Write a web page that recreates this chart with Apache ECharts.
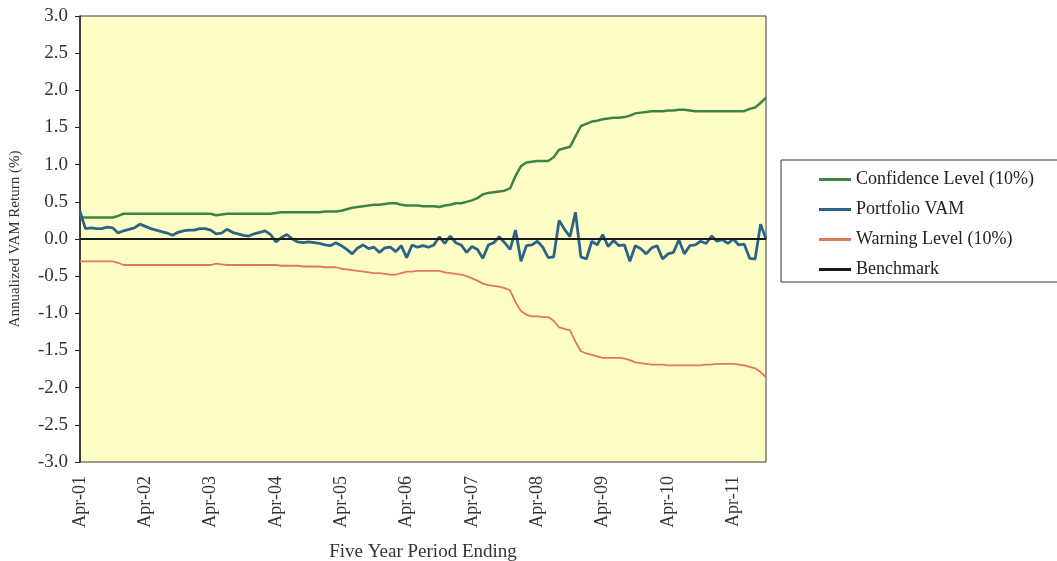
<!DOCTYPE html>
<html>
<head>
<meta charset="utf-8">
<script src="https://cdn.jsdelivr.net/npm/echarts@6/dist/echarts.min.js"></script>
<style>html,body{margin:0;padding:0;background:#fff;}#c{width:1057px;height:561px;}</style>
</head>
<body>
<div id="c"></div>
<script>
// Month labels: Apr-01 .. Oct-11 (monthly)
const monthNames = ['Jan','Feb','Mar','Apr','May','Jun','Jul','Aug','Sep','Oct','Nov','Dec'];
const startYear = 2001, startMonth = 3, monthCount = 127;
const categories = [];
for (let i = 0; i < monthCount; i++) {
  const m = (startMonth + i) % 12;
  const y = startYear + Math.floor((startMonth + i) / 12);
  categories.push(monthNames[m] + '-' + String(y % 100).padStart(2, '0'));
}

const confidenceLevel = [
  0.29,0.29,0.29,0.29,0.29,0.29,0.29,0.31,0.34,0.34,
  0.34,0.34,0.34,0.34,0.34,0.34,0.34,0.34,0.34,0.34,
  0.34,0.34,0.34,0.34,0.34,0.32,0.33,0.34,0.34,0.34,
  0.34,0.34,0.34,0.34,0.34,0.34,0.35,0.36,0.36,0.36,
  0.36,0.36,0.36,0.36,0.36,0.37,0.37,0.37,0.38,0.40,
  0.42,0.43,0.44,0.45,0.46,0.46,0.47,0.48,0.48,0.46,
  0.45,0.45,0.45,0.44,0.44,0.44,0.43,0.45,0.46,0.48,
  0.48,0.50,0.52,0.55,0.60,0.62,0.63,0.64,0.65,0.68,
  0.85,0.98,1.03,1.04,1.05,1.05,1.05,1.10,1.20,1.22,
  1.24,1.38,1.52,1.55,1.58,1.59,1.61,1.62,1.63,1.63,
  1.64,1.66,1.69,1.70,1.71,1.72,1.72,1.72,1.73,1.73,
  1.74,1.74,1.73,1.72,1.72,1.72,1.72,1.72,1.72,1.72,
  1.72,1.72,1.72,1.75,1.77,1.83,1.90
];

const portfolioVAM = [
  0.37,0.14,0.15,0.14,0.14,0.16,0.15,0.08,0.11,0.13,
  0.15,0.20,0.17,0.14,0.12,0.10,0.08,0.05,0.09,0.11,
  0.12,0.12,0.14,0.14,0.12,0.07,0.08,0.13,0.09,0.07,
  0.05,0.04,0.07,0.09,0.11,0.06,-0.04,0.02,0.06,0.00,
  -0.04,-0.05,-0.04,-0.05,-0.06,-0.08,-0.09,-0.05,-0.09,-0.14,
  -0.20,-0.12,-0.08,-0.13,-0.11,-0.18,-0.12,-0.11,-0.17,-0.09,
  -0.25,-0.08,-0.11,-0.09,-0.11,-0.08,0.03,-0.06,0.04,-0.05,
  -0.08,-0.18,-0.10,-0.14,-0.26,-0.08,-0.05,0.03,-0.05,-0.14,
  0.12,-0.30,-0.09,-0.08,-0.03,-0.11,-0.25,-0.24,0.25,0.13,
  0.03,0.36,-0.24,-0.27,-0.03,-0.08,0.06,-0.10,-0.02,-0.09,
  -0.08,-0.30,-0.09,-0.13,-0.20,-0.12,-0.09,-0.27,-0.20,-0.18,
  -0.01,-0.20,-0.09,-0.08,-0.03,-0.06,0.04,-0.03,-0.01,-0.06,
  0.00,-0.08,-0.07,-0.26,-0.27,0.20,0.00
];

const warningLevel = [
  -0.30,-0.30,-0.30,-0.30,-0.30,-0.30,-0.30,-0.32,-0.35,-0.35,
  -0.35,-0.35,-0.35,-0.35,-0.35,-0.35,-0.35,-0.35,-0.35,-0.35,
  -0.35,-0.35,-0.35,-0.35,-0.35,-0.33,-0.34,-0.35,-0.35,-0.35,
  -0.35,-0.35,-0.35,-0.35,-0.35,-0.35,-0.35,-0.36,-0.36,-0.36,
  -0.36,-0.37,-0.37,-0.37,-0.37,-0.38,-0.38,-0.38,-0.40,-0.41,
  -0.42,-0.43,-0.44,-0.45,-0.46,-0.46,-0.47,-0.48,-0.48,-0.46,
  -0.44,-0.44,-0.43,-0.43,-0.43,-0.43,-0.43,-0.45,-0.46,-0.47,
  -0.48,-0.50,-0.53,-0.56,-0.60,-0.62,-0.63,-0.64,-0.66,-0.69,
  -0.85,-0.97,-1.02,-1.04,-1.04,-1.05,-1.05,-1.10,-1.19,-1.21,
  -1.23,-1.38,-1.51,-1.54,-1.56,-1.58,-1.60,-1.60,-1.60,-1.60,
  -1.61,-1.63,-1.66,-1.67,-1.68,-1.69,-1.69,-1.69,-1.70,-1.70,
  -1.70,-1.70,-1.70,-1.70,-1.70,-1.69,-1.69,-1.68,-1.68,-1.68,
  -1.68,-1.69,-1.70,-1.72,-1.74,-1.79,-1.86
];

const benchmark = categories.map(() => 0);

const yTicks = { min: -3, max: 3, interval: 0.5 };

const chart = echarts.init(document.getElementById('c'));
const serif = '"Liberation Serif", "DejaVu Serif", serif';
chart.setOption({
  animation: false,
  backgroundColor: '#ffffff',
  textStyle: { fontFamily: serif },
  grid: {
    left: 80, top: 16, right: 291, bottom: 99,
    containLabel: false, outerBoundsMode: 'none',
    show: true, backgroundColor: '#FEFDC6', borderColor: '#3a3a3a', borderWidth: 1
  },
  legend: {
    orient: 'vertical',
    left: 781, top: 160,
    padding: [10, 40, 3, 38],
    backgroundColor: '#ffffff',
    borderColor: '#333',
    borderWidth: 1,
    borderRadius: 0,
    itemWidth: 32, itemHeight: 3, itemGap: 11,
    icon: 'rect',
    textStyle: { fontFamily: serif, fontSize: 18, color: '#222', lineHeight: 19 },
    data: ['Confidence Level (10%)', 'Portfolio VAM', 'Warning Level (10%)', 'Benchmark']
  },
  xAxis: {
    type: 'category',
    data: categories,
    boundaryGap: false,
    name: 'Five Year Period Ending',
    nameLocation: 'middle',
    nameGap: 81,
    nameTextStyle: { fontFamily: serif, fontSize: 19, color: '#333' },
    axisLine: { show: true, lineStyle: { color: '#333', width: 1 } },
    axisTick: { show: false },
    axisLabel: {
      interval: 11, rotate: 90, fontFamily: serif, fontSize: 18, color: '#333', margin: 14
    },
    splitLine: { show: false }
  },
  yAxis: {
    type: 'value',
    min: yTicks.min, max: yTicks.max, interval: yTicks.interval,
    name: 'Annualized VAM Return (%)',
    nameLocation: 'middle',
    nameGap: 57,
    nameRotate: 90,
    nameTextStyle: { fontFamily: serif, fontSize: 15, color: '#333' },
    axisLine: { show: true, lineStyle: { color: '#222', width: 1.5 } },
    axisTick: { show: true, length: 5, lineStyle: { color: '#222' } },
    axisLabel: {
      fontFamily: serif, fontSize: 19, color: '#333', margin: 12,
      formatter: v => v.toFixed(1)
    },
    splitLine: { show: false }
  },
  series: [
    { name: 'Confidence Level (10%)', type: 'line', data: confidenceLevel, showSymbol: false, symbol: 'none',
      itemStyle: { color: '#3C8540' }, lineStyle: { color: '#3C8540', width: 2.5 }, z: 3 },
    { name: 'Portfolio VAM', type: 'line', data: portfolioVAM, showSymbol: false, symbol: 'none',
      itemStyle: { color: '#2C6488' }, lineStyle: { color: '#2C6488', width: 2.8 }, z: 3 },
    { name: 'Warning Level (10%)', type: 'line', data: warningLevel, showSymbol: false, symbol: 'none',
      itemStyle: { color: '#E2785A' }, lineStyle: { color: '#E2785A', width: 1.8 }, z: 3 },
    { name: 'Benchmark', type: 'line', data: benchmark, showSymbol: false, symbol: 'none',
      itemStyle: { color: '#1a1a1a' }, lineStyle: { color: '#1a1a1a', width: 2 }, z: 4 }
  ]
});
</script>
</body>
</html>
